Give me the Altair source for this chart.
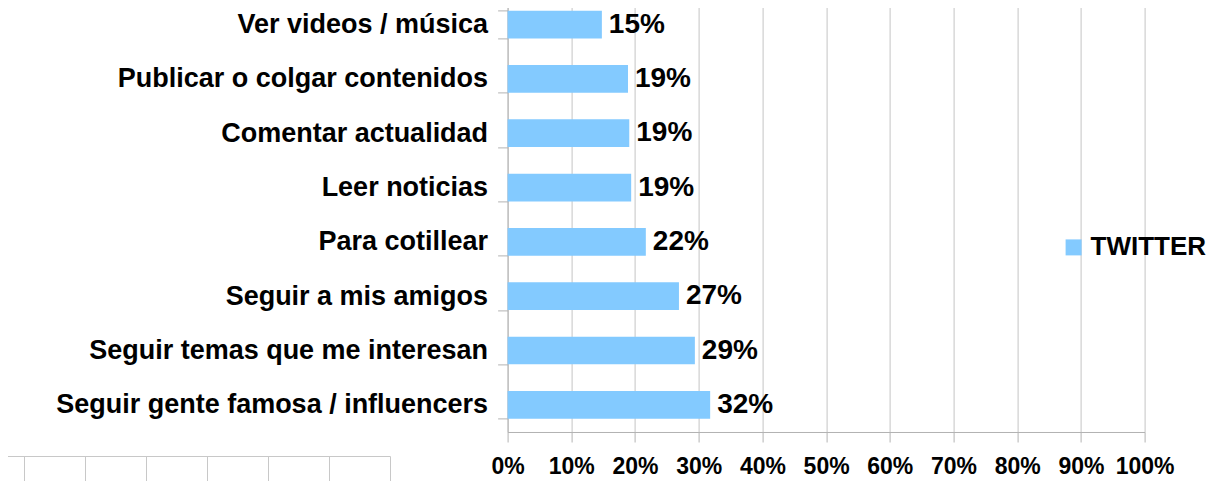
import altair as alt
import pandas as pd

categories = [
    "Ver videos / música",
    "Publicar o colgar contenidos",
    "Comentar actualidad",
    "Leer noticias",
    "Para cotillear",
    "Seguir a mis amigos",
    "Seguir temas que me interesan",
    "Seguir gente famosa / influencers",
]
values = [0.148, 0.189, 0.191, 0.194, 0.217, 0.269, 0.294, 0.318]
series_name = "TWITTER"
x_ticks = [0.0, 0.1, 0.2, 0.3, 0.4, 0.5, 0.6, 0.7, 0.8, 0.9, 1.0]

df = pd.DataFrame({"cat": categories, "val": values, "serie": [series_name] * len(categories)})

FONT = "Liberation Sans"
BAR = "#83CAFF"
AXIS_GRAY = "#b3b3b3"
GRID_GRAY = "#c4c4c4"

# plot-area origin in page pixels (used only for the decorative table stub)
OX, OY = 507.6, -2.6

y_enc = alt.Y(
    "cat:N",
    sort=categories,
    scale=alt.Scale(paddingInner=0.49, paddingOuter=0.245),
    axis=alt.Axis(
        title=None, tickBand="extent", grid=False,
        domainColor=AXIS_GRAY, tickColor=AXIS_GRAY, tickSize=10,
        labelPadding=10, labelFont=FONT, labelFontSize=27,
        labelFontWeight="bold", labelColor="black", labelLimit=700,
    ),
)
x_enc = alt.X(
    "val:Q",
    scale=alt.Scale(domain=[0, 1], nice=False),
    axis=alt.Axis(
        title=None, values=x_ticks, format=".0%", grid=True,
        gridColor=GRID_GRAY, domainColor=AXIS_GRAY, tickColor=AXIS_GRAY,
        tickSize=10, labelPadding=14, labelFont=FONT, labelFontSize=23,
        labelFontWeight="bold", labelColor="black",
        labelFlush=False, labelOverlap=False,
    ),
)

color_enc = alt.Color(
    "serie:N",
    scale=alt.Scale(domain=[series_name], range=[BAR]),
    legend=alt.Legend(
        title=None, orient="none", legendX=553, legendY=237,
        symbolType="square", symbolSize=256, symbolStrokeWidth=0,
        labelFont=FONT, labelFontSize=26, labelFontWeight="bold",
        labelColor="black", labelOffset=4,
    ),
)

base = alt.Chart(df)
bars = base.mark_bar().encode(y=y_enc, x=x_enc, color=color_enc)
labels = base.mark_text(
    align="left", baseline="middle", dx=7, font=FONT, fontSize=28,
    fontWeight="bold", color="black",
).encode(y=alt.Y("cat:N", sort=categories), x="val:Q", text=alt.Text("val:Q", format=".0%"))

# decorative stub of a table border visible at the bottom-left of the reference
one = alt.Data(values=[{"a": 1}])
stub_color = "#c8c8c8"
stub_layers = [
    alt.Chart(one).mark_rule(color=stub_color, strokeWidth=1).encode(
        x=alt.value(0 - OX), x2=alt.value(390.5 - OX),
        y=alt.value(456.5 - OY),
    )
]
for px in [24.5, 85.5, 146.5, 207.5, 268.5, 329.5, 390.5]:
    stub_layers.append(
        alt.Chart(one).mark_rule(color=stub_color, strokeWidth=1).encode(
            x=alt.value(px - OX), y=alt.value(456.5 - OY), y2=alt.value(500 - OY),
        )
    )

chart = (
    alt.layer(bars, labels, *stub_layers)
    .properties(
        width=637, height=434.6,
        padding={"left": OX - 8, "top": OY - 8, "right": 76, "bottom": 50},
        autosize=alt.AutoSizeParams(type="none"),
    )
    .configure_view(stroke=None)
)

chart.save("out.html", embed_options={"renderer": "svg", "actions": False})
